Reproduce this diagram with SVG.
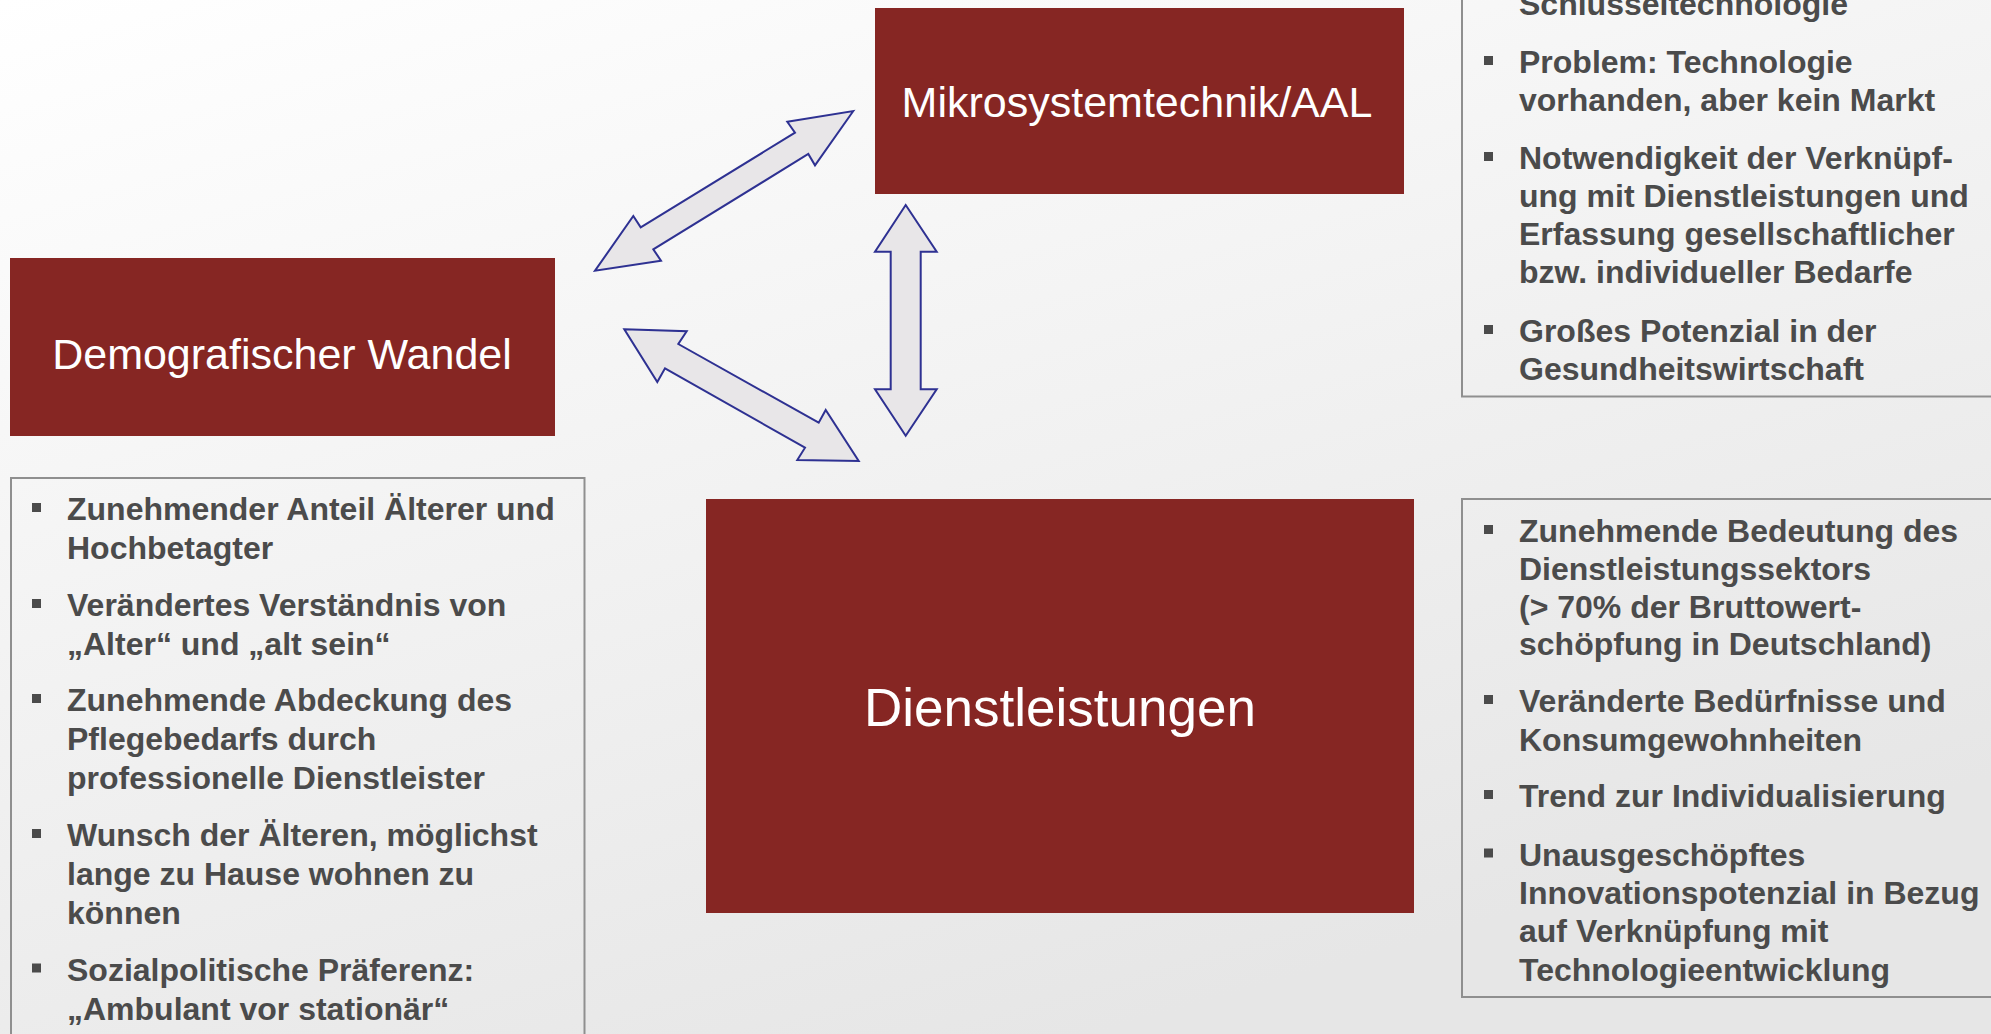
<svg xmlns="http://www.w3.org/2000/svg" width="1991" height="1034" viewBox="0 0 1991 1034">
  <defs>
    <linearGradient id="bg" x1="0" y1="0" x2="0.55" y2="1">
      <stop offset="0" stop-color="#ffffff"/>
      <stop offset="1" stop-color="#e6e6e6"/>
    </linearGradient>
    <style>
      .box { fill: #862623; }
      .title { fill: #ffffff; font-family: "Liberation Sans", Arial, sans-serif; text-anchor: middle; }
      .panel { fill: none; stroke: #8f8f8f; stroke-width: 2; }
      .item { fill: #4b4b4b; font-family: "Liberation Sans", Arial, sans-serif; font-weight: bold; font-size: 32px; }
      .bullet { fill: #4b4b4b; }
      .arrow { fill: #e8e6e8; stroke: #2e3192; stroke-width: 2; stroke-linejoin: miter; }
    </style>
  </defs>

  <rect x="0" y="0" width="1991" height="1034" fill="url(#bg)"/>

  <g id="node-mikrosystemtechnik">
    <rect class="box" x="875" y="8" width="529" height="186"/>
    <text class="title" x="1137" y="117" font-size="43">Mikrosystemtechnik/AAL</text>
  </g>

  <g id="node-demografischer-wandel">
    <rect class="box" x="10" y="258" width="545" height="178"/>
    <text class="title" x="282" y="369" font-size="43">Demografischer Wandel</text>
  </g>

  <g id="node-dienstleistungen">
    <rect class="box" x="706" y="499" width="708" height="414"/>
    <text class="title" x="1060" y="726" font-size="53">Dienstleistungen</text>
  </g>

  <g id="connectors">
    <polygon class="arrow" points="853.3,111 815,165.3 808.3,154 653.3,249.3 661,260.7 595,270.7 633.3,216 640.7,227.3 795,132.7 787.3,121.7"/>
    <polygon class="arrow" points="624.3,329.3 686.7,331.3 678.3,344 818.7,422.7 825.7,410 858.7,461 797.3,460 805,447.7 665,368.3 657.3,382"/>
    <polygon class="arrow" points="905.7,205 936.7,251.7 920.7,251.7 920.7,389.3 936.7,389.3 905.7,435.7 875,389.3 890.7,389.3 890.7,251.7 875,251.7"/>
  </g>

  <g id="panel-mikrosystemtechnik">
    <rect class="panel" x="1462" y="-10" width="540" height="406.5"/>
    <text class="item" x="1519" y="15">Schlüsseltechnologie</text>
    <rect class="bullet" x="1484" y="56" width="9" height="9"/>
    <text class="item" x="1519" y="73">Problem: Technologie</text>
    <text class="item" x="1519" y="111">vorhanden, aber kein Markt</text>
    <rect class="bullet" x="1484" y="152" width="9" height="9"/>
    <text class="item" x="1519" y="169">Notwendigkeit der Verknüpf-</text>
    <text class="item" x="1519" y="207">ung mit Dienstleistungen und</text>
    <text class="item" x="1519" y="245">Erfassung gesellschaftlicher</text>
    <text class="item" x="1519" y="283">bzw. individueller Bedarfe</text>
    <rect class="bullet" x="1484" y="325" width="9" height="9"/>
    <text class="item" x="1519" y="342">Großes Potenzial in der</text>
    <text class="item" x="1519" y="380">Gesundheitswirtschaft</text>
  </g>

  <g id="panel-demografischer-wandel">
    <rect class="panel" x="11" y="478" width="573.5" height="570"/>
    <rect class="bullet" x="32" y="503" width="9" height="9"/>
    <text class="item" x="67" y="520">Zunehmender Anteil Älterer und</text>
    <text class="item" x="67" y="559">Hochbetagter</text>
    <rect class="bullet" x="32" y="599" width="9" height="9"/>
    <text class="item" x="67" y="616">Verändertes Verständnis von</text>
    <text class="item" x="67" y="655">„Alter“ und „alt sein“</text>
    <rect class="bullet" x="32" y="694" width="9" height="9"/>
    <text class="item" x="67" y="711">Zunehmende Abdeckung des</text>
    <text class="item" x="67" y="750">Pflegebedarfs durch</text>
    <text class="item" x="67" y="788.5">professionelle Dienstleister</text>
    <rect class="bullet" x="32" y="829" width="9" height="9"/>
    <text class="item" x="67" y="846">Wunsch der Älteren, möglichst</text>
    <text class="item" x="67" y="885">lange zu Hause wohnen zu</text>
    <text class="item" x="67" y="923.5">können</text>
    <rect class="bullet" x="32" y="963.5" width="9" height="9"/>
    <text class="item" x="67" y="980.5">Sozialpolitische Präferenz:</text>
    <text class="item" x="67" y="1019.5">„Ambulant vor stationär“</text>
  </g>

  <g id="panel-dienstleistungen">
    <rect class="panel" x="1462" y="499" width="540" height="498"/>
    <rect class="bullet" x="1484" y="525" width="9" height="9"/>
    <text class="item" x="1519" y="542">Zunehmende Bedeutung des</text>
    <text class="item" x="1519" y="580">Dienstleistungssektors</text>
    <text class="item" x="1519" y="617.5">(&gt; 70% der Bruttowert-</text>
    <text class="item" x="1519" y="655">schöpfung in Deutschland)</text>
    <rect class="bullet" x="1484" y="695" width="9" height="9"/>
    <text class="item" x="1519" y="712">Veränderte Bedürfnisse und</text>
    <text class="item" x="1519" y="750.5">Konsumgewohnheiten</text>
    <rect class="bullet" x="1484" y="790" width="9" height="9"/>
    <text class="item" x="1519" y="807">Trend zur Individualisierung</text>
    <rect class="bullet" x="1484" y="848.5" width="9" height="9"/>
    <text class="item" x="1519" y="865.5">Unausgeschöpftes</text>
    <text class="item" x="1519" y="904">Innovationspotenzial in Bezug</text>
    <text class="item" x="1519" y="942">auf Verknüpfung mit</text>
    <text class="item" x="1519" y="980.5">Technologieentwicklung</text>
  </g>
</svg>
